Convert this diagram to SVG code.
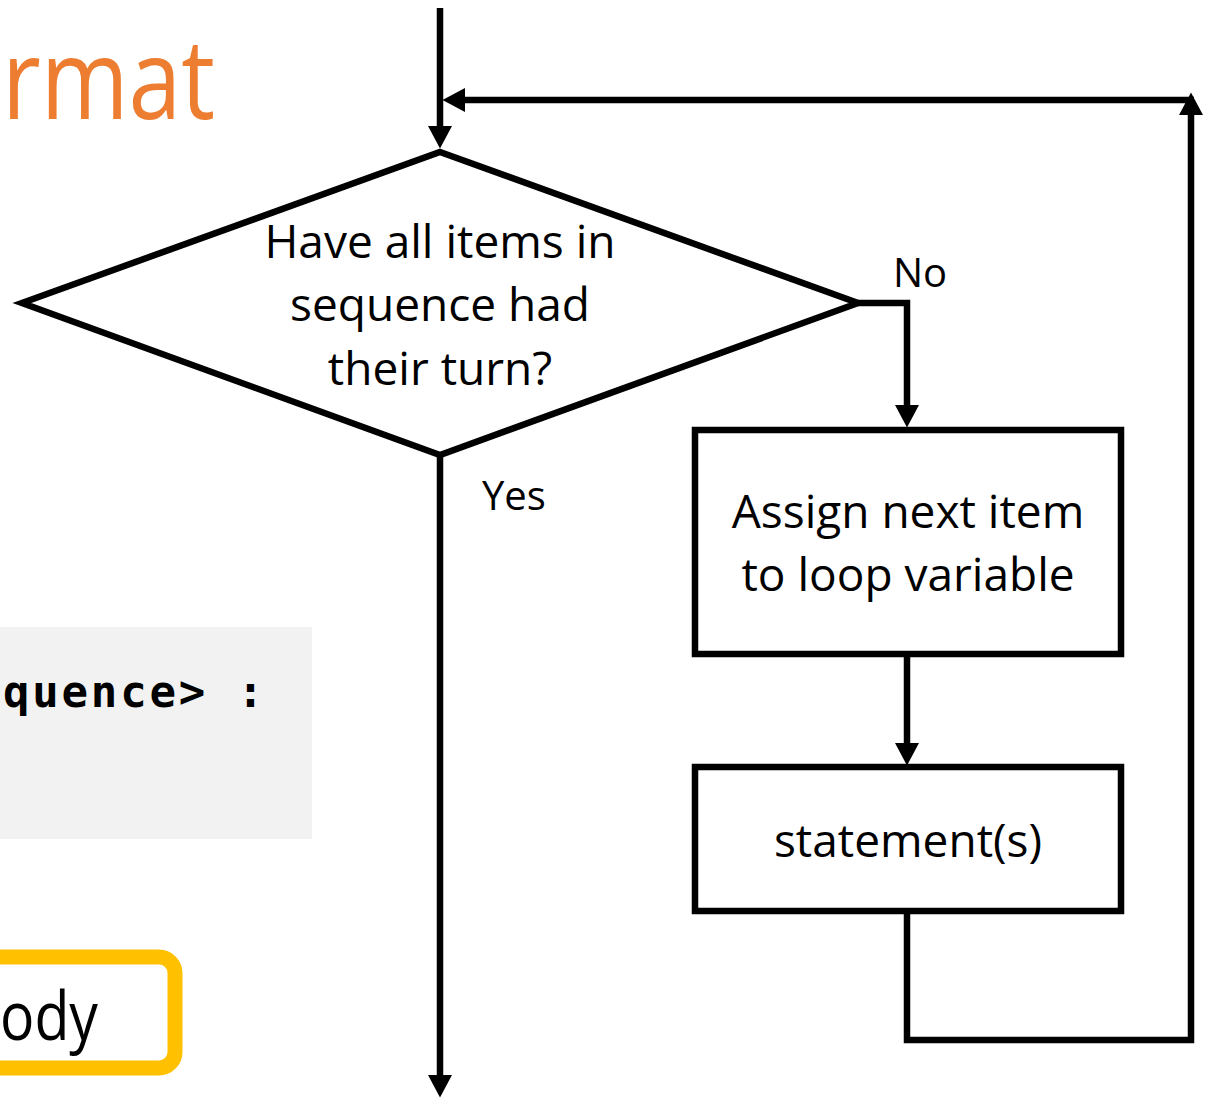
<svg xmlns="http://www.w3.org/2000/svg" width="1211" height="1099" viewBox="0 0 1211 1099">
<style>
.ln{fill:none;stroke:#000;stroke-width:6.5;stroke-linejoin:miter}
.sh{fill:#fff;stroke:#000;stroke-width:6.5}
.t{font-family:"Open Sans","Liberation Sans",sans-serif;font-size:46px;fill:#000;text-anchor:middle}
.lbl{font-family:"Open Sans","Liberation Sans",sans-serif;font-size:40px;fill:#000}
</style>
<defs>
<marker id="ah" markerUnits="userSpaceOnUse" markerWidth="24" markerHeight="26" viewBox="0 -13 23 26" refX="0" refY="0" orient="auto">
<path d="M0,-12 L22.5,0 L0,12 z" fill="#000"/>
</marker>
</defs>
<rect id="codebox" x="0" y="627" width="312" height="212" fill="#F2F2F2"/>
<text x="3" y="707" font-family="'DejaVu Sans Mono','Liberation Mono',monospace" font-weight="bold" font-size="44" letter-spacing="2.8" fill="#000">quence&gt; :</text>
<text x="2" y="119" font-family="'Open Sans','Liberation Sans',sans-serif" font-size="112" textLength="213" lengthAdjust="spacingAndGlyphs" fill="#ED7D31">rmat</text>
<g id="bodybox">
<rect x="-40" y="957" width="215" height="111" rx="16" fill="#fff" stroke="#FFC000" stroke-width="15"/>
<text x="0" y="1040" font-family="'Open Sans','Liberation Sans',sans-serif" font-size="68" textLength="98" lengthAdjust="spacingAndGlyphs" fill="#000">ody</text>
</g>
<g id="connectors">
<path class="ln" d="M440,8 V126" marker-end="url(#ah)"/>
<path class="ln" d="M907,911 V1040 H1191 V115" marker-end="url(#ah)"/>
<path class="ln" d="M1194,100 H465" marker-end="url(#ah)"/>
<path class="ln" d="M858,303 H907 V405" marker-end="url(#ah)"/>
<path class="ln" d="M907,654 V743" marker-end="url(#ah)"/>
<path class="ln" d="M440,455 V1075" marker-end="url(#ah)"/>
<text class="lbl" x="893" y="287">No</text>
<text class="lbl" x="482" y="510">Yes</text>
</g>
<g id="decision">
<polygon class="sh" points="440,152 858,303 440,455 22,303"/>
<text class="t" x="440" y="258">Have all items in</text>
<text class="t" x="440" y="321">sequence had</text>
<text class="t" x="440" y="385">their turn?</text>
</g>
<g id="assign">
<rect class="sh" x="695" y="430" width="426" height="224"/>
<text class="t" x="908" y="528">Assign next item</text>
<text class="t" x="908" y="591">to loop variable</text>
</g>
<g id="statements">
<rect class="sh" x="695" y="767" width="426" height="144"/>
<text class="t" x="908" y="857">statement(s)</text>
</g>
</svg>
